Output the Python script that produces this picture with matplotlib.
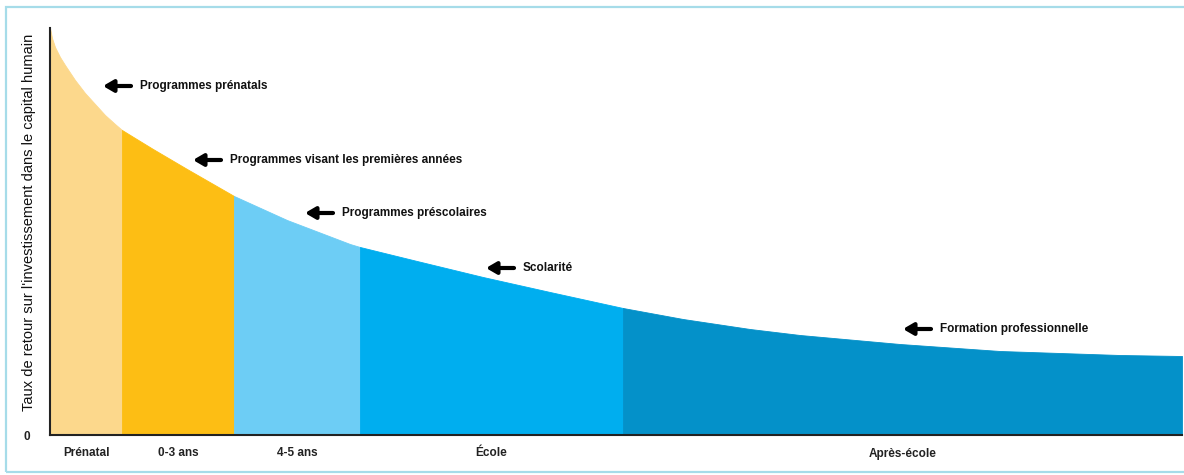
import matplotlib
matplotlib.use("Agg")
import matplotlib.pyplot as plt
from matplotlib.patches import Rectangle
import numpy as np

# ---- data ----
stages = ["Prénatal", "0-3 ans", "4-5 ans", "École", "Après-école"]
stage_bounds = [0, 72, 184, 310, 573, 1132]
stage_colors = ["#FCD88C", "#FDBE14", "#6DCDF5", "#00AEEF", "#0491C9"]

curve_x = [0, 2, 5, 10, 15, 25, 35, 45, 55, 65, 72, 85, 103, 137, 184,
           237, 300, 310, 367, 433, 500, 573, 633, 700, 750, 850, 950, 1070, 1132]
curve_y = [407, 397, 388, 378, 370, 355, 342, 331, 320, 311, 305, 297, 286, 266, 239,
           215, 191, 188, 174, 158, 143, 127, 116, 106, 100, 91, 84, 80, 79]

programs = ["Programmes prénatals", "Programmes visant les premières années",
            "Programmes préscolaires", "Scolarité", "Formation professionnelle"]
program_x = [53, 143, 255, 436, 853]
program_y = [349, 275, 222, 167, 106]

ylabel = "Taux de retour sur l'investissement dans le capital humain"

FAM = ["Liberation Sans", "DejaVu Sans"]
plt.rcParams["font.family"] = FAM

fig = plt.figure(figsize=(11.84, 4.75), dpi=100)
ax = fig.add_axes([50 / 1184, 40 / 475, 1132 / 1184, 407 / 475])

x = np.array(curve_x, dtype=float)
y = np.array(curve_y, dtype=float)
for i, (name, col) in enumerate(zip(stages, stage_colors)):
    b0, b1 = stage_bounds[i], stage_bounds[i + 1]
    m = (x >= b0) & (x <= b1)
    ax.fill_between(x[m], 0, y[m], color=col, lw=0.6, edgecolor=col)

ax.set_xlim(stage_bounds[0], stage_bounds[-1])
ax.set_ylim(0, max(curve_y))

centers = [(stage_bounds[i] + stage_bounds[i + 1]) / 2 for i in range(len(stages))]
ax.set_xticks(centers)
ax.set_xticklabels(stages, fontsize=8.5, fontweight="bold", color="#222222")
ax.set_yticks([0])
ax.set_yticklabels(["0"], fontsize=8.5, fontweight="bold", color="#222222")
ax.tick_params(axis="both", length=0)
ax.tick_params(axis="x", pad=9)
ax.tick_params(axis="y", pad=14)
ax.set_ylabel(ylabel, fontsize=10.5, color="#111111")
ax.yaxis.set_label_coords(-0.012, 0.523)

for s in ["top", "right"]:
    ax.spines[s].set_visible(False)
for s in ["left", "bottom"]:
    ax.spines[s].set_linewidth(1.5)
    ax.spines[s].set_color("#222222")
    ax.spines[s].set_zorder(5)

for txt, hx, hy in zip(programs, program_x, program_y):
    ax.annotate("", xy=(hx, hy), xytext=(hx + 28, hy),
                arrowprops=dict(arrowstyle="-|>,head_length=0.6,head_width=0.35",
                                lw=3.0, color="black", shrinkA=0, shrinkB=0,
                                mutation_scale=10))
    ax.text(hx + 37, hy, txt, fontsize=8.5, fontweight="bold", va="center",
            ha="left", color="#111111")

fig.patches.append(Rectangle((6 / 1184, 3 / 475), 1.2, 465 / 475,
                             transform=fig.transFigure, fill=False,
                             edgecolor="#A6DCE9", lw=1.6))

fig.savefig("out.png", dpi=100)
